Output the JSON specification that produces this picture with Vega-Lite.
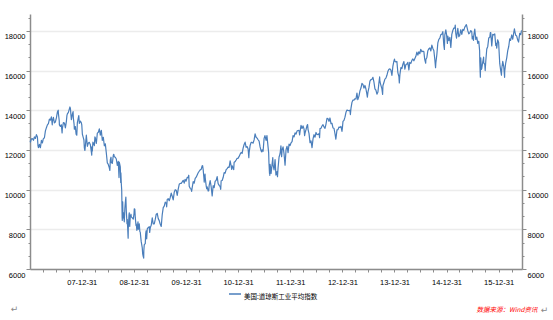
{
"$schema":"https://vega.github.io/schema/vega-lite/v6.json",
"width":492,"height":255,
"autosize":{"type":"none"},
"padding":{"left":30,"top":14,"right":31,"bottom":51},
"background":"white",
"config":{"view":{"stroke":null},"font":"Liberation Sans"},
"data":{"values":[
{"d":"2007-01-03","v":12474},{"d":"2007-01-05","v":12398},{"d":"2007-01-12","v":12556},{"d":"2007-01-19","v":12566},{"d":"2007-01-26","v":12487},{"d":"2007-02-02","v":12654},{"d":"2007-02-09","v":12581},{"d":"2007-02-16","v":12768},{"d":"2007-02-23","v":12647},{"d":"2007-02-27","v":12216},{"d":"2007-03-02","v":12114},{"d":"2007-03-09","v":12277},{"d":"2007-03-14","v":12134},{"d":"2007-03-16","v":12111},{"d":"2007-03-23","v":12481},{"d":"2007-03-30","v":12354},{"d":"2007-04-05","v":12560},{"d":"2007-04-13","v":12612},{"d":"2007-04-20","v":12962},{"d":"2007-04-27","v":13121},{"d":"2007-05-04","v":13265},{"d":"2007-05-11","v":13327},{"d":"2007-05-18","v":13556},{"d":"2007-05-25","v":13507},{"d":"2007-06-01","v":13668},{"d":"2007-06-07","v":13267},{"d":"2007-06-08","v":13424},{"d":"2007-06-15","v":13639},{"d":"2007-06-22","v":13361},{"d":"2007-06-29","v":13409},{"d":"2007-07-06","v":13612},{"d":"2007-07-13","v":13908},{"d":"2007-07-19","v":14000},{"d":"2007-07-20","v":13851},{"d":"2007-07-26","v":13473},{"d":"2007-07-27","v":13265},{"d":"2007-08-03","v":13182},{"d":"2007-08-09","v":13271},{"d":"2007-08-10","v":13240},{"d":"2007-08-15","v":12861},{"d":"2007-08-17","v":13079},{"d":"2007-08-24","v":13379},{"d":"2007-08-31","v":13358},{"d":"2007-09-07","v":13113},{"d":"2007-09-14","v":13442},{"d":"2007-09-18","v":13739},{"d":"2007-09-21","v":13821},{"d":"2007-09-28","v":13896},{"d":"2007-10-05","v":14066},{"d":"2007-10-09","v":14165},{"d":"2007-10-12","v":14093},{"d":"2007-10-19","v":13522},{"d":"2007-10-26","v":13807},{"d":"2007-10-31","v":13930},{"d":"2007-11-02","v":13595},{"d":"2007-11-07","v":13300},{"d":"2007-11-09","v":13043},{"d":"2007-11-16","v":13177},{"d":"2007-11-21","v":12800},{"d":"2007-11-26","v":12744},{"d":"2007-11-30","v":13372},{"d":"2007-12-07","v":13626},{"d":"2007-12-10","v":13727},{"d":"2007-12-14","v":13340},{"d":"2007-12-21","v":13450},{"d":"2007-12-28","v":13366},{"d":"2007-12-31","v":13265},
{"d":"2008-01-04","v":12800},{"d":"2008-01-11","v":12606},{"d":"2008-01-15","v":12501},{"d":"2008-01-18","v":12100},{"d":"2008-01-22","v":11971},{"d":"2008-01-25","v":12207},{"d":"2008-02-01","v":12743},{"d":"2008-02-08","v":12183},{"d":"2008-02-15","v":12348},{"d":"2008-02-22","v":12381},{"d":"2008-02-29","v":12266},{"d":"2008-03-07","v":11894},{"d":"2008-03-10","v":11740},{"d":"2008-03-11","v":12156},{"d":"2008-03-14","v":11951},{"d":"2008-03-18","v":12392},{"d":"2008-03-20","v":12361},{"d":"2008-03-28","v":12216},{"d":"2008-04-01","v":12654},{"d":"2008-04-04","v":12609},{"d":"2008-04-11","v":12325},{"d":"2008-04-18","v":12849},{"d":"2008-04-25","v":12891},{"d":"2008-05-02","v":13058},{"d":"2008-05-09","v":12745},{"d":"2008-05-16","v":12986},{"d":"2008-05-23","v":12480},{"d":"2008-05-30","v":12638},{"d":"2008-06-06","v":12209},{"d":"2008-06-13","v":12307},{"d":"2008-06-20","v":11843},{"d":"2008-06-27","v":11346},{"d":"2008-07-03","v":11288},{"d":"2008-07-11","v":11100},{"d":"2008-07-15","v":10963},{"d":"2008-07-18","v":11496},{"d":"2008-07-23","v":11632},{"d":"2008-07-25","v":11370},{"d":"2008-08-01","v":11326},{"d":"2008-08-08","v":11734},{"d":"2008-08-11","v":11782},{"d":"2008-08-15","v":11659},{"d":"2008-08-22","v":11628},{"d":"2008-08-29","v":11543},{"d":"2008-09-05","v":11220},{"d":"2008-09-12","v":11421},{"d":"2008-09-15","v":10917},{"d":"2008-09-17","v":10609},{"d":"2008-09-19","v":11388},{"d":"2008-09-26","v":11143},{"d":"2008-09-29","v":10365},{"d":"2008-09-30","v":10850},{"d":"2008-10-03","v":10325},{"d":"2008-10-06","v":9955},{"d":"2008-10-09","v":8579},{"d":"2008-10-10","v":8451},{"d":"2008-10-13","v":9387},{"d":"2008-10-15","v":8578},{"d":"2008-10-17","v":8852},{"d":"2008-10-22","v":8519},{"d":"2008-10-24","v":8378},{"d":"2008-10-28","v":9065},{"d":"2008-10-31","v":9325},{"d":"2008-11-04","v":9625},{"d":"2008-11-07","v":8943},{"d":"2008-11-12","v":8283},{"d":"2008-11-14","v":8497},{"d":"2008-11-20","v":7552},{"d":"2008-11-21","v":8046},{"d":"2008-11-26","v":8727},{"d":"2008-11-28","v":8829},{"d":"2008-12-01","v":8149},{"d":"2008-12-05","v":8635},{"d":"2008-12-10","v":8761},{"d":"2008-12-12","v":8629},{"d":"2008-12-19","v":8579},{"d":"2008-12-26","v":8515},{"d":"2008-12-31","v":8776},
{"d":"2009-01-02","v":9034},{"d":"2009-01-06","v":9015},{"d":"2009-01-09","v":8599},{"d":"2009-01-14","v":8200},{"d":"2009-01-16","v":8281},{"d":"2009-01-20","v":7950},{"d":"2009-01-23","v":8077},{"d":"2009-01-28","v":8375},{"d":"2009-01-30","v":8001},{"d":"2009-02-06","v":8280},{"d":"2009-02-10","v":7888},{"d":"2009-02-13","v":7850},{"d":"2009-02-17","v":7553},{"d":"2009-02-20","v":7366},{"d":"2009-02-27","v":7063},{"d":"2009-03-02","v":6763},{"d":"2009-03-06","v":6627},{"d":"2009-03-09","v":6547},{"d":"2009-03-10","v":6926},{"d":"2009-03-13","v":7224},{"d":"2009-03-20","v":7278},{"d":"2009-03-23","v":7776},{"d":"2009-03-26","v":7925},{"d":"2009-03-30","v":7522},{"d":"2009-04-03","v":8018},{"d":"2009-04-09","v":8083},{"d":"2009-04-17","v":8131},{"d":"2009-04-20","v":7841},{"d":"2009-04-24","v":8076},{"d":"2009-05-01","v":8212},{"d":"2009-05-08","v":8575},{"d":"2009-05-15","v":8268},{"d":"2009-05-22","v":8277},{"d":"2009-05-29","v":8500},{"d":"2009-06-05","v":8763},{"d":"2009-06-12","v":8799},{"d":"2009-06-19","v":8539},{"d":"2009-06-26","v":8438},{"d":"2009-07-02","v":8280},{"d":"2009-07-10","v":8146},{"d":"2009-07-17","v":8743},{"d":"2009-07-24","v":9093},{"d":"2009-07-31","v":9171},{"d":"2009-08-07","v":9370},{"d":"2009-08-14","v":9321},{"d":"2009-08-17","v":9135},{"d":"2009-08-21","v":9505},{"d":"2009-08-28","v":9544},{"d":"2009-09-04","v":9441},{"d":"2009-09-11","v":9605},{"d":"2009-09-18","v":9820},{"d":"2009-09-25","v":9665},{"d":"2009-10-02","v":9487},{"d":"2009-10-09","v":9864},{"d":"2009-10-16","v":9995},{"d":"2009-10-23","v":9972},{"d":"2009-10-30","v":9712},{"d":"2009-11-06","v":10023},{"d":"2009-11-13","v":10270},{"d":"2009-11-20","v":10318},{"d":"2009-11-27","v":10309},{"d":"2009-12-04","v":10388},{"d":"2009-12-11","v":10471},{"d":"2009-12-18","v":10329},{"d":"2009-12-24","v":10520},{"d":"2009-12-31","v":10428},
{"d":"2010-01-08","v":10618},{"d":"2010-01-15","v":10609},{"d":"2010-01-19","v":10725},{"d":"2010-01-22","v":10172},{"d":"2010-01-29","v":10067},{"d":"2010-02-05","v":10012},{"d":"2010-02-08","v":9908},{"d":"2010-02-12","v":10099},{"d":"2010-02-19","v":10402},{"d":"2010-02-26","v":10325},{"d":"2010-03-05","v":10566},{"d":"2010-03-12","v":10625},{"d":"2010-03-19","v":10742},{"d":"2010-03-26","v":10850},{"d":"2010-04-02","v":10927},{"d":"2010-04-09","v":10997},{"d":"2010-04-16","v":11019},{"d":"2010-04-23","v":11204},{"d":"2010-04-26","v":11205},{"d":"2010-04-30","v":11009},{"d":"2010-05-06","v":10520},{"d":"2010-05-07","v":10380},{"d":"2010-05-13","v":10782},{"d":"2010-05-14","v":10620},{"d":"2010-05-21","v":10193},{"d":"2010-05-25","v":10043},{"d":"2010-05-28","v":10137},{"d":"2010-06-04","v":9931},{"d":"2010-06-08","v":9940},{"d":"2010-06-11","v":10212},{"d":"2010-06-18","v":10451},{"d":"2010-06-25","v":10144},{"d":"2010-07-02","v":9686},{"d":"2010-07-09","v":10198},{"d":"2010-07-16","v":10098},{"d":"2010-07-23","v":10425},{"d":"2010-07-30","v":10466},{"d":"2010-08-06","v":10654},{"d":"2010-08-13","v":10303},{"d":"2010-08-20","v":10214},{"d":"2010-08-27","v":10150},{"d":"2010-08-31","v":10014},{"d":"2010-09-03","v":10448},{"d":"2010-09-10","v":10462},{"d":"2010-09-17","v":10608},{"d":"2010-09-24","v":10861},{"d":"2010-10-01","v":10830},{"d":"2010-10-08","v":11006},{"d":"2010-10-15","v":11063},{"d":"2010-10-22","v":11133},{"d":"2010-10-29","v":11118},{"d":"2010-11-05","v":11445},{"d":"2010-11-12","v":11192},{"d":"2010-11-16","v":11023},{"d":"2010-11-19","v":11204},{"d":"2010-11-26","v":11092},{"d":"2010-11-30","v":11006},{"d":"2010-12-03","v":11382},{"d":"2010-12-10","v":11411},{"d":"2010-12-17","v":11491},{"d":"2010-12-23","v":11573},{"d":"2010-12-31","v":11578},
{"d":"2011-01-07","v":11675},{"d":"2011-01-14","v":11787},{"d":"2011-01-21","v":11872},{"d":"2011-01-28","v":11824},{"d":"2011-02-04","v":12092},{"d":"2011-02-11","v":12273},{"d":"2011-02-18","v":12391},{"d":"2011-02-25","v":12130},{"d":"2011-03-04","v":12170},{"d":"2011-03-11","v":12044},{"d":"2011-03-16","v":11613},{"d":"2011-03-18","v":11859},{"d":"2011-03-25","v":12221},{"d":"2011-04-01","v":12377},{"d":"2011-04-08","v":12380},{"d":"2011-04-15","v":12342},{"d":"2011-04-22","v":12505},{"d":"2011-04-29","v":12811},{"d":"2011-05-06","v":12638},{"d":"2011-05-13","v":12596},{"d":"2011-05-20","v":12512},{"d":"2011-05-27","v":12441},{"d":"2011-06-03","v":12151},{"d":"2011-06-10","v":11952},{"d":"2011-06-15","v":11897},{"d":"2011-06-17","v":12004},{"d":"2011-06-24","v":11934},{"d":"2011-07-01","v":12582},{"d":"2011-07-07","v":12719},{"d":"2011-07-15","v":12479},{"d":"2011-07-21","v":12724},{"d":"2011-07-29","v":12143},{"d":"2011-08-02","v":11866},{"d":"2011-08-04","v":11383},{"d":"2011-08-08","v":10809},{"d":"2011-08-09","v":11239},{"d":"2011-08-10","v":10719},{"d":"2011-08-12","v":11269},{"d":"2011-08-18","v":10990},{"d":"2011-08-19","v":10817},{"d":"2011-08-26","v":11284},{"d":"2011-08-31","v":11613},{"d":"2011-09-02","v":11240},{"d":"2011-09-09","v":10992},{"d":"2011-09-16","v":11509},{"d":"2011-09-22","v":10733},{"d":"2011-09-30","v":10913},{"d":"2011-10-03","v":10655},{"d":"2011-10-07","v":11103},{"d":"2011-10-14","v":11644},{"d":"2011-10-21","v":11809},{"d":"2011-10-27","v":12209},{"d":"2011-11-01","v":11658},{"d":"2011-11-04","v":11983},{"d":"2011-11-11","v":12153},{"d":"2011-11-18","v":11796},{"d":"2011-11-25","v":11231},{"d":"2011-12-02","v":12019},{"d":"2011-12-09","v":12184},{"d":"2011-12-16","v":11867},{"d":"2011-12-23","v":12294},{"d":"2011-12-30","v":12218},
{"d":"2012-01-06","v":12360},{"d":"2012-01-13","v":12422},{"d":"2012-01-20","v":12720},{"d":"2012-01-27","v":12660},{"d":"2012-02-03","v":12862},{"d":"2012-02-10","v":12801},{"d":"2012-02-17","v":12950},{"d":"2012-02-24","v":12983},{"d":"2012-03-02","v":12978},{"d":"2012-03-06","v":12759},{"d":"2012-03-09","v":12922},{"d":"2012-03-16","v":13233},{"d":"2012-03-23","v":13081},{"d":"2012-03-30","v":13212},{"d":"2012-04-06","v":13060},{"d":"2012-04-10","v":12716},{"d":"2012-04-13","v":12850},{"d":"2012-04-20","v":13029},{"d":"2012-04-27","v":13228},{"d":"2012-05-01","v":13279},{"d":"2012-05-04","v":13038},{"d":"2012-05-11","v":12821},{"d":"2012-05-18","v":12369},{"d":"2012-05-25","v":12455},{"d":"2012-06-01","v":12119},{"d":"2012-06-08","v":12554},{"d":"2012-06-15","v":12767},{"d":"2012-06-22","v":12640},{"d":"2012-06-29","v":12880},{"d":"2012-07-06","v":12772},{"d":"2012-07-13","v":12777},{"d":"2012-07-20","v":12822},{"d":"2012-07-24","v":12617},{"d":"2012-07-27","v":13075},{"d":"2012-08-03","v":13096},{"d":"2012-08-10","v":13207},{"d":"2012-08-17","v":13275},{"d":"2012-08-24","v":13157},{"d":"2012-08-31","v":13090},{"d":"2012-09-07","v":13306},{"d":"2012-09-14","v":13593},{"d":"2012-09-21","v":13579},{"d":"2012-09-28","v":13437},{"d":"2012-10-05","v":13610},{"d":"2012-10-12","v":13328},{"d":"2012-10-19","v":13343},{"d":"2012-10-26","v":13107},{"d":"2012-11-02","v":13093},{"d":"2012-11-09","v":12815},{"d":"2012-11-15","v":12543},{"d":"2012-11-23","v":13009},{"d":"2012-11-30","v":13025},{"d":"2012-12-07","v":13155},{"d":"2012-12-14","v":13135},{"d":"2012-12-21","v":13190},{"d":"2012-12-28","v":12938},{"d":"2012-12-31","v":13104},
{"d":"2013-01-04","v":13435},{"d":"2013-01-11","v":13488},{"d":"2013-01-18","v":13650},{"d":"2013-01-25","v":13896},{"d":"2013-02-01","v":14010},{"d":"2013-02-08","v":13993},{"d":"2013-02-15","v":13982},{"d":"2013-02-22","v":14001},{"d":"2013-02-25","v":13784},{"d":"2013-03-01","v":14090},{"d":"2013-03-08","v":14397},{"d":"2013-03-15","v":14515},{"d":"2013-03-22","v":14513},{"d":"2013-03-28","v":14579},{"d":"2013-04-05","v":14565},{"d":"2013-04-12","v":14865},{"d":"2013-04-18","v":14538},{"d":"2013-04-26","v":14713},{"d":"2013-05-03","v":14974},{"d":"2013-05-10","v":15118},{"d":"2013-05-17","v":15354},{"d":"2013-05-24","v":15303},{"d":"2013-05-31","v":15116},{"d":"2013-06-07","v":15248},{"d":"2013-06-14","v":15070},{"d":"2013-06-21","v":14800},{"d":"2013-06-24","v":14660},{"d":"2013-06-28","v":14910},{"d":"2013-07-05","v":15136},{"d":"2013-07-12","v":15465},{"d":"2013-07-19","v":15544},{"d":"2013-07-26","v":15559},{"d":"2013-08-02","v":15658},{"d":"2013-08-09","v":15425},{"d":"2013-08-16","v":15081},{"d":"2013-08-23","v":15010},{"d":"2013-08-30","v":14810},{"d":"2013-09-06","v":14922},{"d":"2013-09-13","v":15376},{"d":"2013-09-18","v":15677},{"d":"2013-09-20","v":15452},{"d":"2013-09-27","v":15258},{"d":"2013-10-04","v":15073},{"d":"2013-10-09","v":14802},{"d":"2013-10-11","v":15237},{"d":"2013-10-18","v":15400},{"d":"2013-10-25","v":15570},{"d":"2013-11-01","v":15616},{"d":"2013-11-08","v":15762},{"d":"2013-11-15","v":15962},{"d":"2013-11-22","v":16065},{"d":"2013-11-29","v":16086},{"d":"2013-12-06","v":16020},{"d":"2013-12-13","v":15755},{"d":"2013-12-20","v":16221},{"d":"2013-12-27","v":16479},{"d":"2013-12-31","v":16577},
{"d":"2014-01-03","v":16470},{"d":"2014-01-10","v":16437},{"d":"2014-01-17","v":16459},{"d":"2014-01-24","v":15880},{"d":"2014-01-31","v":15699},{"d":"2014-02-03","v":15373},{"d":"2014-02-07","v":15794},{"d":"2014-02-14","v":16154},{"d":"2014-02-21","v":16104},{"d":"2014-02-28","v":16322},{"d":"2014-03-07","v":16453},{"d":"2014-03-14","v":16066},{"d":"2014-03-21","v":16303},{"d":"2014-03-28","v":16323},{"d":"2014-04-04","v":16413},{"d":"2014-04-11","v":16027},{"d":"2014-04-17","v":16409},{"d":"2014-04-25","v":16361},{"d":"2014-05-02","v":16513},{"d":"2014-05-09","v":16584},{"d":"2014-05-16","v":16492},{"d":"2014-05-23","v":16607},{"d":"2014-05-30","v":16717},{"d":"2014-06-06","v":16925},{"d":"2014-06-13","v":16776},{"d":"2014-06-20","v":16948},{"d":"2014-06-27","v":16852},{"d":"2014-07-03","v":17068},{"d":"2014-07-11","v":16944},{"d":"2014-07-17","v":16977},{"d":"2014-07-25","v":16961},{"d":"2014-07-31","v":16563},{"d":"2014-08-07","v":16368},{"d":"2014-08-08","v":16554},{"d":"2014-08-15","v":16663},{"d":"2014-08-22","v":17002},{"d":"2014-08-29","v":17098},{"d":"2014-09-05","v":17138},{"d":"2014-09-12","v":16988},{"d":"2014-09-19","v":17280},{"d":"2014-09-26","v":17114},{"d":"2014-10-03","v":17010},{"d":"2014-10-10","v":16544},{"d":"2014-10-15","v":16142},{"d":"2014-10-17","v":16380},{"d":"2014-10-24","v":16805},{"d":"2014-10-31","v":17391},{"d":"2014-11-07","v":17573},{"d":"2014-11-14","v":17634},{"d":"2014-11-21","v":17810},{"d":"2014-11-28","v":17828},{"d":"2014-12-05","v":17959},{"d":"2014-12-12","v":17280},{"d":"2014-12-16","v":17068},{"d":"2014-12-19","v":17804},{"d":"2014-12-26","v":18053},{"d":"2014-12-31","v":17823},
{"d":"2015-01-06","v":17371},{"d":"2015-01-09","v":17737},{"d":"2015-01-16","v":17511},{"d":"2015-01-23","v":17672},{"d":"2015-01-30","v":17165},{"d":"2015-02-06","v":17824},{"d":"2015-02-13","v":18019},{"d":"2015-02-20","v":18140},{"d":"2015-02-27","v":18133},{"d":"2015-03-02","v":18288},{"d":"2015-03-06","v":17856},{"d":"2015-03-11","v":17636},{"d":"2015-03-13","v":17749},{"d":"2015-03-20","v":18128},{"d":"2015-03-27","v":17713},{"d":"2015-04-02","v":17763},{"d":"2015-04-10","v":18058},{"d":"2015-04-17","v":17826},{"d":"2015-04-24","v":18080},{"d":"2015-05-01","v":18024},{"d":"2015-05-08","v":18191},{"d":"2015-05-15","v":18272},{"d":"2015-05-19","v":18312},{"d":"2015-05-22","v":18232},{"d":"2015-05-29","v":18011},{"d":"2015-06-05","v":17849},{"d":"2015-06-12","v":17899},{"d":"2015-06-19","v":18016},{"d":"2015-06-26","v":17947},{"d":"2015-06-29","v":17596},{"d":"2015-07-02","v":17730},{"d":"2015-07-08","v":17515},{"d":"2015-07-10","v":17760},{"d":"2015-07-17","v":18086},{"d":"2015-07-24","v":17568},{"d":"2015-07-31","v":17690},{"d":"2015-08-07","v":17373},{"d":"2015-08-14","v":17477},{"d":"2015-08-20","v":16991},{"d":"2015-08-21","v":16460},{"d":"2015-08-24","v":15871},{"d":"2015-08-25","v":15666},{"d":"2015-08-28","v":16643},{"d":"2015-09-01","v":16058},{"d":"2015-09-04","v":16102},{"d":"2015-09-11","v":16433},{"d":"2015-09-17","v":16675},{"d":"2015-09-18","v":16385},{"d":"2015-09-25","v":16315},{"d":"2015-09-28","v":16001},{"d":"2015-10-02","v":16472},{"d":"2015-10-09","v":17084},{"d":"2015-10-16","v":17216},{"d":"2015-10-23","v":17647},{"d":"2015-10-30","v":17664},{"d":"2015-11-03","v":17918},{"d":"2015-11-06","v":17910},{"d":"2015-11-13","v":17245},{"d":"2015-11-20","v":17824},{"d":"2015-11-27","v":17798},{"d":"2015-12-04","v":17848},{"d":"2015-12-11","v":17265},{"d":"2015-12-14","v":17368},{"d":"2015-12-18","v":17128},{"d":"2015-12-24","v":17552},{"d":"2015-12-31","v":17425},
{"d":"2016-01-08","v":16346},{"d":"2016-01-15","v":15988},{"d":"2016-01-20","v":15766},{"d":"2016-01-22","v":16093},{"d":"2016-01-29","v":16466},{"d":"2016-02-05","v":16205},{"d":"2016-02-11","v":15660},{"d":"2016-02-12","v":15974},{"d":"2016-02-19","v":16392},{"d":"2016-02-26","v":16640},{"d":"2016-03-04","v":17006},{"d":"2016-03-11","v":17213},{"d":"2016-03-18","v":17602},{"d":"2016-03-24","v":17516},{"d":"2016-04-01","v":17793},{"d":"2016-04-08","v":17577},{"d":"2016-04-15","v":17898},{"d":"2016-04-20","v":18096},{"d":"2016-04-22","v":18004},{"d":"2016-04-29","v":17774},{"d":"2016-05-06","v":17740},{"d":"2016-05-13","v":17535},{"d":"2016-05-19","v":17436},{"d":"2016-05-20","v":17501},{"d":"2016-05-27","v":17873},{"d":"2016-06-03","v":17807},{"d":"2016-06-08","v":18005},{"d":"2016-06-09","v":17985}
]},
"encoding":{
 "x":{"field":"d","type":"temporal",
  "scale":{"domain":[{"year":2007,"month":1,"date":2,"utc":true},{"year":2016,"month":6,"date":12,"utc":true}]},
  "axis":{"grid":false,"domainColor":"#8c8c8c","domainWidth":1.5,"tickColor":"#8c8c8c","tickSize":3,
   "labelFontSize":7.5,"labelColor":"#000","labelPadding":6,"labelFont":"Liberation Sans",
   "labelExpr":"utcmonth(datum.value) == 11 ? utcFormat(datum.value, '%y-%m-%d') : ''",
   "values":[
    {"year":2007,"month":3,"date":31,"utc":true},{"year":2007,"month":6,"date":30,"utc":true},{"year":2007,"month":9,"date":30,"utc":true},{"year":2007,"month":12,"date":31,"utc":true},
    {"year":2008,"month":3,"date":31,"utc":true},{"year":2008,"month":6,"date":30,"utc":true},{"year":2008,"month":9,"date":30,"utc":true},{"year":2008,"month":12,"date":31,"utc":true},
    {"year":2009,"month":3,"date":31,"utc":true},{"year":2009,"month":6,"date":30,"utc":true},{"year":2009,"month":9,"date":30,"utc":true},{"year":2009,"month":12,"date":31,"utc":true},
    {"year":2010,"month":3,"date":31,"utc":true},{"year":2010,"month":6,"date":30,"utc":true},{"year":2010,"month":9,"date":30,"utc":true},{"year":2010,"month":12,"date":31,"utc":true},
    {"year":2011,"month":3,"date":31,"utc":true},{"year":2011,"month":6,"date":30,"utc":true},{"year":2011,"month":9,"date":30,"utc":true},{"year":2011,"month":12,"date":31,"utc":true},
    {"year":2012,"month":3,"date":31,"utc":true},{"year":2012,"month":6,"date":30,"utc":true},{"year":2012,"month":9,"date":30,"utc":true},{"year":2012,"month":12,"date":31,"utc":true},
    {"year":2013,"month":3,"date":31,"utc":true},{"year":2013,"month":6,"date":30,"utc":true},{"year":2013,"month":9,"date":30,"utc":true},{"year":2013,"month":12,"date":31,"utc":true},
    {"year":2014,"month":3,"date":31,"utc":true},{"year":2014,"month":6,"date":30,"utc":true},{"year":2014,"month":9,"date":30,"utc":true},{"year":2014,"month":12,"date":31,"utc":true},
    {"year":2015,"month":3,"date":31,"utc":true},{"year":2015,"month":6,"date":30,"utc":true},{"year":2015,"month":9,"date":30,"utc":true},{"year":2015,"month":12,"date":31,"utc":true},
    {"year":2016,"month":3,"date":31,"utc":true}],
   "title":"数据来源：Wind资讯","titleX":446,"titleY":40,"titleAlign":"left","titleBaseline":"middle","titleAngle":0,
   "titleColor":"#ff0000","titleFontStyle":"italic","titleFontWeight":"normal","titleFontSize":6.5,"titleFont":"Noto Sans CJK SC"}
 }
},
"layer":[
 {"mark":{"type":"line","strokeWidth":1.2,"strokeJoin":"round"},
  "encoding":{
   "y":{"field":"v","type":"quantitative","scale":{"domain":[6000,18850],"nice":false,"zero":false},
    "axis":{"orient":"left","format":"d",
     "values":[6000,6666.6667,7333.3333,8000,8666.6667,9333.3333,10000,10666.6667,11333.3333,12000,12666.6667,13333.3333,14000,14666.6667,15333.3333,16000,16666.6667,17333.3333,18000,18666.6667],
     "labelExpr":"datum.value % 2000 == 0 ? format(datum.value, 'd') : ''",
     "grid":true,"gridColor":"#ececec","gridWidth":1.5,
     "gridOpacity":{"condition":{"test":"datum.value % 2000 != 0","value":0},"value":1},
     "tickSize":{"condition":{"test":"datum.value % 2000 != 0","value":2},"value":4},
     "tickColor":"#8c8c8c","domainColor":"#8c8c8c","domainWidth":1.5,
     "labelFontSize":7.5,"labelColor":"#000","labelPadding":1,"labelOffset":6,"labelFont":"Liberation Sans",
     "title":"↵","titleAngle":0,"titleX":-16,"titleY":294,"titleAlign":"center","titleBaseline":"middle",
     "titleColor":"#888888","titleFontSize":9,"titleFontWeight":"normal","titleFont":"DejaVu Sans"}},
   "color":{"datum":"美国:道琼斯工业平均指数","type":"nominal","scale":{"range":["#4a7ebb"]},
    "legend":{"orient":"none","legendX":198,"legendY":273,"title":null,"symbolType":"stroke","symbolSize":144,
     "symbolStrokeWidth":1.5,"labelFont":"Noto Sans CJK SC","labelFontSize":6.5,"labelColor":"#000",
     "labelBaseline":"top","padding":0,"labelOffset":2}}
  }},
 {"mark":{"type":"line","strokeOpacity":0},
  "encoding":{
   "y":{"field":"v","type":"quantitative","scale":{"domain":[6000,18850],"nice":false,"zero":false},
    "axis":{"orient":"right","format":"d","grid":false,
     "values":[6000,6666.6667,7333.3333,8000,8666.6667,9333.3333,10000,10666.6667,11333.3333,12000,12666.6667,13333.3333,14000,14666.6667,15333.3333,16000,16666.6667,17333.3333,18000,18666.6667],
     "labelExpr":"datum.value % 2000 == 0 ? format(datum.value, 'd') : ''",
     "tickSize":{"condition":{"test":"datum.value % 2000 != 0","value":2},"value":4},
     "tickColor":"#8c8c8c","domainColor":"#8c8c8c","domainWidth":1.5,
     "labelFontSize":7.5,"labelColor":"#000","labelPadding":1,"labelOffset":6,"labelFont":"Liberation Sans",
     "title":"↵","titleAngle":0,"titleX":22,"titleY":295,"titleAlign":"center","titleBaseline":"middle",
     "titleColor":"#888888","titleFontSize":9,"titleFontWeight":"normal","titleFont":"DejaVu Sans"}}
  }}
],
"resolve":{"axis":{"y":"independent"}}
}
